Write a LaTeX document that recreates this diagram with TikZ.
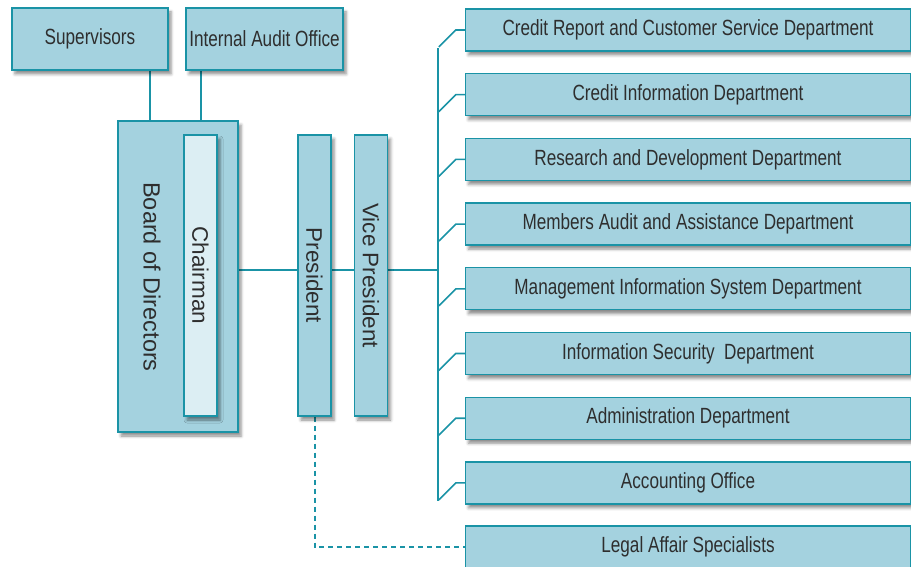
\documentclass[tikz,border=0pt]{standalone}
\usepackage{fontspec}
\setmainfont[FakeStretch=0.78]{Liberation Sans}
\newfontfamily\postfont{Liberation Sans}
\usepackage{tikz}
\usetikzlibrary{calc,backgrounds,shadows.blur}
\definecolor{boxfill}{HTML}{A4D2DF}
\definecolor{chairfill}{HTML}{DCEEF3}
\definecolor{edge}{HTML}{1A93A6}
\definecolor{ink}{HTML}{2E2E2E}
\tikzset{
  orgbox/.style={draw=edge, fill=boxfill, line width=1.3pt, inner sep=0pt,
    text=ink, font=\fontsize{22}{26}\selectfont,
    blur shadow={shadow xshift=3pt, shadow yshift=-4pt, shadow blur radius=3pt, shadow opacity=45}},
  topbox/.style={orgbox, minimum height=62pt},
  dept/.style={orgbox, minimum width=445pt, minimum height=42pt},
  post/.style={orgbox, rotate=-90, minimum width=281pt, minimum height=33pt,
    font=\postfont\fontsize{22.5}{26}\selectfont},
  vtext/.style={text=ink, font=\postfont\fontsize{23.5}{26}\selectfont, rotate=-90, inner sep=0pt},
  link/.style={draw=edge, line width=1.6pt, line join=miter},
  duty/.style={draw=edge, line width=2pt, dash pattern=on 5pt off 4pt},
}

\begin{document}
\begin{tikzpicture}[x=1pt, y=-1pt]
  \useasboundingbox (0,0) rectangle (911,567);

  % top row
  \node[topbox, minimum width=156pt] (sup)   at (90,39)    {Supervisors};
  \node[topbox, minimum width=157pt] (audit) at (264.5,39) {Internal Audit Office};

  % board, chairman, president, vice president
  \node[orgbox, minimum width=120pt, minimum height=311pt] (board) at (178,276.5) {};
  \node[vtext] (boardtext) at (152,277) {Board of Directors};
  \node[post, fill=chairfill] (chair) at (200.5,275.5) {Chairman};
  \node[post] (pres) at (314.5,275.5) {President};
  \node[post] (vice) at (371,275.5) {Vice President};

  % departments
  \coordinate (spine) at (438,270);
  \foreach \name [count=\i from 0] in {
      Credit Report and Customer Service Department,
      Credit Information Department,
      Research and Development Department,
      Members Audit and Assistance Department,
      Management Information System Department,
      Information Security\ \ Department,
      Administration Department,
      Accounting Office} {
    \node[dept] (d\i) at (688,{30+64.7*\i}) {\name};
  }
  \node[dept] (legal) at (688,547) {Legal Affair Specialists};

  \begin{scope}[on background layer]
    \draw[link] ([xshift=60pt]sup.south) -- ([xshift=60pt]sup.south |- board.north);
    \draw[link] ([xshift=-63.5pt]audit.south) -- ([xshift=-63.5pt]audit.south |- board.north);
    \draw[link] (board.east |- spine) -- (spine);
    \path (spine |- d0.west) ++(0,18) coordinate (top);
    \path (spine |- d7.west) ++(0,18) coordinate (bottom);
    \draw[link] (top) -- (bottom);
    \foreach \i in {0,...,7}
      \draw[link] (d\i.west) -- ++(-9,0) -- ++(-17,17);
    \draw[duty] (pres.east) -- (pres.east |- legal.west) -- (legal.west);
  \end{scope}
\end{tikzpicture}
\end{document}
